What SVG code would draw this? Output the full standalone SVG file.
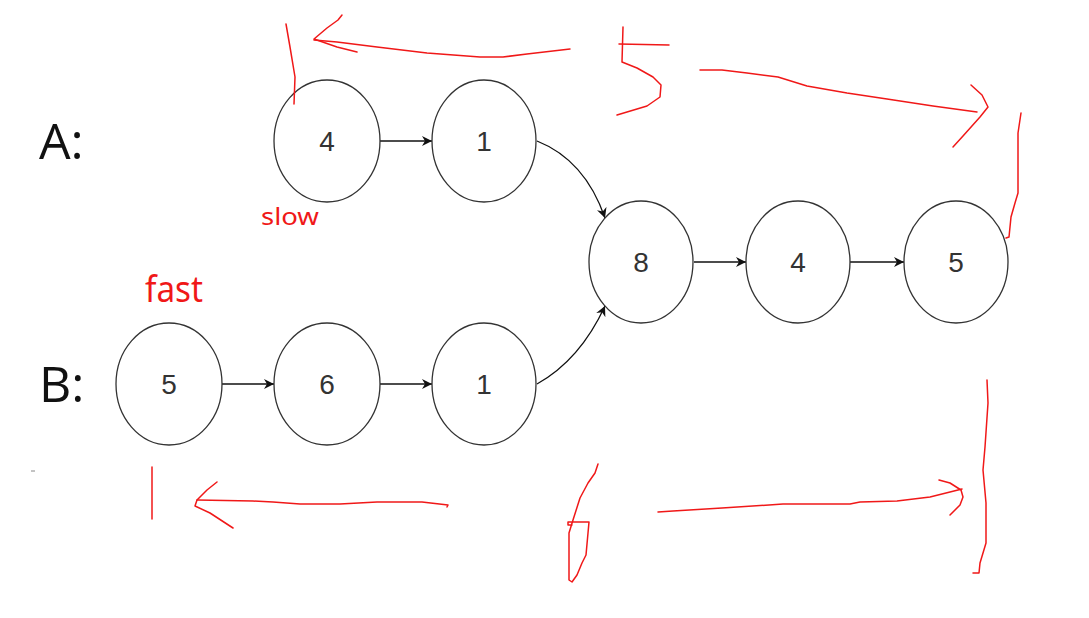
<svg xmlns="http://www.w3.org/2000/svg" width="1089" height="618" viewBox="0 0 1089 618">
<style>
.node ellipse{fill:#fff;stroke:#333;stroke-width:1.3}
.node text{font-family:"Liberation Sans",Arial,sans-serif;font-size:28px;fill:#333;text-anchor:middle;dominant-baseline:central}
.conn{stroke:#111;stroke-width:1.3;fill:none;marker-end:url(#ah)}
.lbl{font-family:"Open Sans","Liberation Sans",sans-serif;font-size:50px;fill:#111}
.red{stroke:#f01818;stroke-width:1.5;fill:none;stroke-linejoin:round;stroke-linecap:round}
.rtxt{font-family:"Noto Sans","Liberation Sans",sans-serif;fill:#f01818}
</style>
<defs>
<marker id="ah" viewBox="0 0 10 10" refX="10" refY="5" markerWidth="10" markerHeight="10" markerUnits="userSpaceOnUse" orient="auto">
<path d="M0,0 L10,5 L0,10 L3,5 Z" fill="#111"/>
</marker>
</defs>
<rect width="1089" height="618" fill="#fff"/>
<text class="lbl" x="39" y="159">A:</text>
<text class="lbl" x="39" y="402">B:</text>
<g id="connectors">
<line class="conn" x1="380" y1="141" x2="432" y2="141"/>
<line class="conn" x1="694" y1="262" x2="746" y2="262"/>
<line class="conn" x1="850" y1="262" x2="904" y2="262"/>
<line class="conn" x1="222" y1="384" x2="274" y2="384"/>
<line class="conn" x1="380" y1="384" x2="432" y2="384"/>
<path class="conn" d="M537,141 Q585,160 605,218"/>
<path class="conn" d="M537,384 Q580,360 605,306"/>
</g>
<g id="nA1" class="node"><ellipse cx="327" cy="141" rx="53" ry="61"/><text x="327" y="141">4</text></g>
<g id="nA2" class="node"><ellipse cx="484" cy="141" rx="52" ry="61"/><text x="484" y="141">1</text></g>
<g id="nC1" class="node"><ellipse cx="641" cy="262" rx="52" ry="61"/><text x="641" y="262">8</text></g>
<g id="nC2" class="node"><ellipse cx="798" cy="262" rx="52" ry="61"/><text x="798" y="262">4</text></g>
<g id="nC3" class="node"><ellipse cx="956" cy="262" rx="52" ry="61"/><text x="956" y="262">5</text></g>
<g id="nB1" class="node"><ellipse cx="169" cy="384" rx="53" ry="61"/><text x="169" y="384">5</text></g>
<g id="nB2" class="node"><ellipse cx="327" cy="384" rx="53" ry="61"/><text x="327" y="384">6</text></g>
<g id="nB3" class="node"><ellipse cx="484" cy="384" rx="52" ry="61"/><text x="484" y="384">1</text></g>
<text class="rtxt" x="261" y="225" font-size="24" textLength="58" lengthAdjust="spacingAndGlyphs">slow</text>
<text class="rtxt" x="145" y="302" font-size="36" textLength="58" lengthAdjust="spacingAndGlyphs">fast</text>
<g id="annotations">
<polyline class="red" points="286,24 290,47 295,77 294,104"/>
<polyline class="red" points="342,15 338,20 327,28 314,39 337,47 357,52"/>
<polyline class="red" points="314,40 337,42 377,47 427,53 480,57 503,57 527,54 570,49"/>
<polyline class="red" points="619,44 669,45"/>
<polyline class="red" points="623,27 622,62 637,68 653,77 661,85 660,97 647,106 617,115"/>
<polyline class="red" points="700,70 722,70 747,73 778,77 807,86 847,93 887,99 933,106 977,112"/>
<polyline class="red" points="971,85 982,95 988,107 980,117 963,136 953,147"/>
<polyline class="red" points="1021,113 1018,133 1018,193 1015,203 1011,217 1009,237 1006,238"/>
<polyline class="red" points="152,467 152,519"/>
<polyline class="red" points="217,482 207,490 197,500 195,506 210,513 233,528"/>
<polyline class="red" points="197,500 253,501 273,502 300,504 340,504 377,502 422,502 448,505 447,507"/>
<polyline class="red" points="598,464 595,473 588,483 580,498 573,520 569,533 569,580 572,582 577,575 582,563 586,555 589,522 568,522 568,525 572,525"/>
<polyline class="red" points="658,512 673,511 722,508 783,504 850,504 860,502 897,501 930,497 962,489"/>
<polyline class="red" points="939,480 950,483 961,490 963,497 960,505 950,515"/>
<polyline class="red" points="987,380 988,403 985,447 983,470 986,503 986,543 980,563 979,573 973,573"/>
</g>
<line x1="31" y1="471" x2="35" y2="471" stroke="#888" stroke-width="1"/>
</svg>
